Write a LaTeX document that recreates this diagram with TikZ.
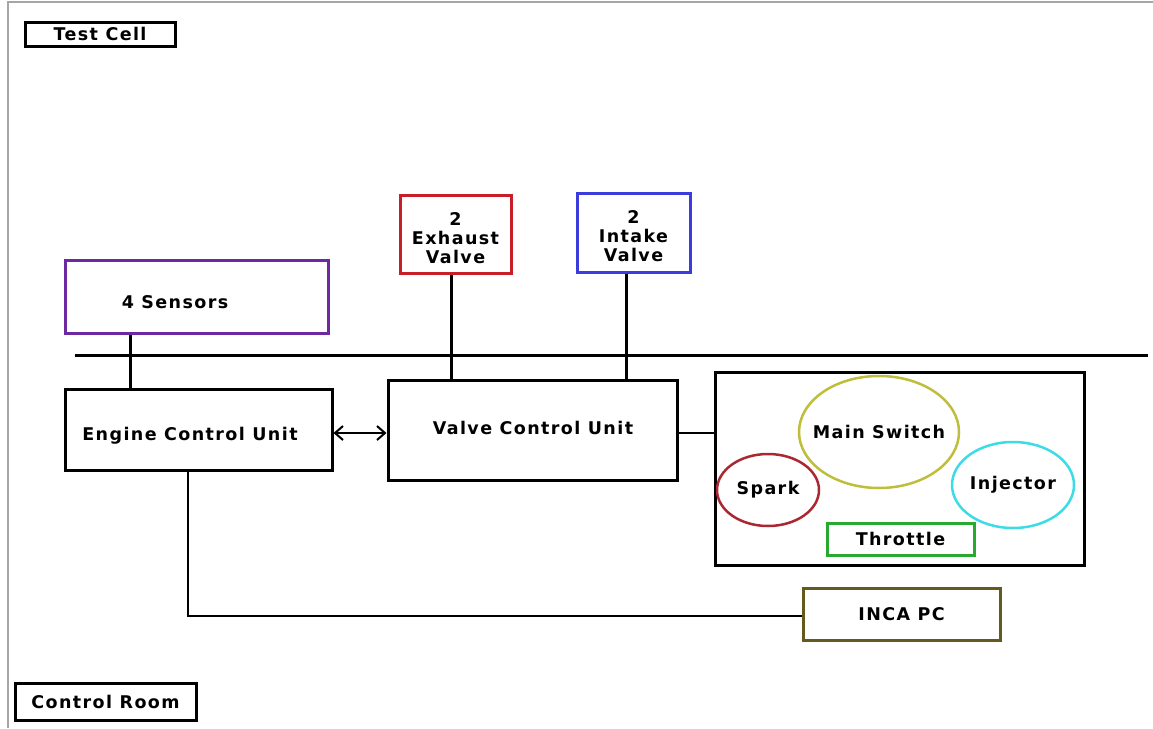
\documentclass[tikz,border=0pt]{standalone}
\usepackage{fontspec}
\setmainfont{DejaVu Sans}
\newfontfamily\lblfont[LetterSpace=8]{DejaVu Sans}
\usetikzlibrary{shapes.geometric,arrows.meta}
\definecolor{cpurple}{RGB}{110,40,160}
\definecolor{cred}{RGB}{200,30,40}
\definecolor{cblue}{RGB}{60,60,220}
\definecolor{colive}{RGB}{190,190,60}
\definecolor{cspark}{RGB}{170,40,50}
\definecolor{ccyan}{RGB}{60,220,230}
\definecolor{cgreen}{RGB}{40,170,50}
\definecolor{cinca}{RGB}{100,90,30}
\tikzset{
  x=1pt,y=-1pt,
  every node/.style={font=\lblfont\bfseries\fontsize{17.5}{21}\selectfont},
  blk/.style={draw=black,line width=3pt,inner sep=0pt},
  cbox/.style={line width=3pt,inner sep=0pt},
  ell/.style={ellipse,line width=2.5pt,inner sep=0pt},
  wire/.style={line width=3pt,draw=black},
}
\begin{document}
\begin{tikzpicture}
\useasboundingbox (0,0) rectangle (1153,728);
\draw[gray!70,line width=1.5pt] (1153,2) -- (8,2) -- (8,728);
% labels
\node[blk,minimum width=150,minimum height=24] (tc) at (100,34) {Test Cell};
\node[blk,minimum width=181,minimum height=37] (cr) at (105.5,701.5) {Control Room};
% top boxes
\node[cbox,draw=cpurple,minimum width=263,minimum height=73] (sens) at (196.5,296.5) {};
\node (senst) at (175,302) {4 Sensors};
\node[cbox,draw=cred,minimum width=111,minimum height=78] (exh) at (455.5,234) {};
\node[align=center] (exht) at (455.5,238) {2\\[-2pt]Exhaust\\[-2pt]Valve};
\node[cbox,draw=cblue,minimum width=113,minimum height=79] (int) at (633.5,232.5) {};
\node[align=center] (intt) at (633.5,236.5) {2\\[-2pt]Intake\\[-2pt]Valve};
% separator line
\coordinate (l1) at (75,355);
\coordinate (l2) at (1148,355);
\draw[wire] (l1) -- (l2);
% units
\node[blk,minimum width=267,minimum height=81] (ecu) at (198.5,429.5) {};
\node (ecut) at (190,436) {Engine Control Unit};
\node[blk,minimum width=289,minimum height=100] (vcu) at (532.5,430) {};
\node (vcut) at (533,428) {Valve Control Unit};
\node[blk,minimum width=369,minimum height=193] (eng) at (899.5,468.5) {};
\node[ell,draw=colive,minimum width=160,minimum height=112] (ms) at (879,432) {};
\node (mst) at (ms.center) {Main Switch};
\node[ell,draw=cspark,minimum width=102,minimum height=72] (sp) at (768,490) {};
\node (spt) at (sp.center) {Spark};
\node[ell,draw=ccyan,minimum width=122,minimum height=86] (inj) at (1013,485) {};
\node (injt) at (inj.center) {Injector};
\node[cbox,draw=cgreen,minimum width=147,minimum height=32] (thr) at (900.5,539) {Throttle};
\node[cbox,draw=cinca,minimum width=197,minimum height=52] (inca) at (901.5,614) {INCA PC};
% connectors
\draw[wire] (sens.south -| 130,0) -- (ecu.north -| 130,0);
\draw[wire] (exh.south -| 451,0) -- (vcu.north -| 451,0);
\draw[wire] (int.south -| 626,0) -- (vcu.north -| 626,0);
\draw[line width=2pt,{Straight Barb[length=8pt,width=14pt]}-{Straight Barb[length=8pt,width=14pt]}] (ecu.east |- 0,433) -- (vcu.west |- 0,433);
\draw[line width=2pt] (vcu.east |- 0,433) -- (eng.west |- 0,433);
\draw[line width=2pt] (ecu.south -| 188,0) -- (188,616) -- (inca.west |- 0,616);
\end{tikzpicture}
\end{document}
